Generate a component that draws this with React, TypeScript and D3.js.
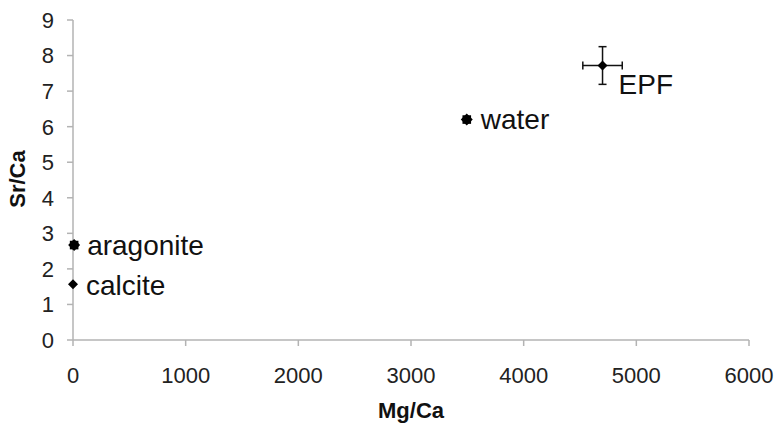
import React from "react";
import * as d3 from "d3";

const labels = ["aragonite", "calcite", "water", "EPF"];
const mgCa = [10, 0, 3495, 4700];
const srCa = [2.67, 1.57, 6.2, 7.72];
const mgErr = [0, 0, 0, 175];
const srErr = [0, 0, 0, 0.53];
const markerKind = ["octagon", "diamond", "octagon", "diamond"];
const xTicks = [0, 1000, 2000, 3000, 4000, 5000, 6000];
const yTicks = [0, 1, 2, 3, 4, 5, 6, 7, 8, 9];

const W = 776;
const H = 423;
const labelOffset: Record<string, [number, number]> = {
  aragonite: [13, 10],
  calcite: [13, 11],
  water: [14, 9],
  EPF: [16, 28],
};

const FONT = "'Liberation Sans', Arial, sans-serif";
const AXIS = "#b3b3b3";

export default function App() {
  const x = d3.scaleLinear().domain([0, 6000]).range([73, 749]);
  const y = d3.scaleLinear().domain([0, 9]).range([340, 20]);

  const diamond = (cx: number, cy: number, r: number) =>
    `M${cx},${cy - r}L${cx + r},${cy}L${cx},${cy + r}L${cx - r},${cy}Z`;

  return (
    <svg
      width={W}
      height={H}
      style={{ position: "absolute", left: 0, top: 0, background: "#fff" }}
      fontFamily={FONT}
    >
      {/* axes */}
      <line x1={x(0)} x2={x(0)} y1={y(9)} y2={y(0)} stroke={AXIS} strokeWidth={1.5} />
      <line x1={x(0)} x2={x(6000)} y1={y(0)} y2={y(0)} stroke={AXIS} strokeWidth={1.5} />
      {yTicks.map((t) => (
        <g key={"y" + t}>
          <line x1={x(0) - 6} x2={x(0)} y1={y(t)} y2={y(t)} stroke={AXIS} strokeWidth={1.5} />
          <text
            x={54}
            y={y(t)}
            dy="0.36em"
            textAnchor="end"
            fontSize={22}
            fill="#222"
          >
            {t}
          </text>
        </g>
      ))}
      {xTicks.map((t) => (
        <g key={"x" + t}>
          <line x1={x(t)} x2={x(t)} y1={y(0)} y2={y(0) + 6} stroke={AXIS} strokeWidth={1.5} />
          <text x={x(t)} y={383} textAnchor="middle" fontSize={22} fill="#222">
            {t}
          </text>
        </g>
      ))}
      <text x={411} y={418} textAnchor="middle" fontSize={22} fontWeight="bold" fill="#111">
        Mg/Ca
      </text>
      <text
        transform={`translate(25,179) rotate(-90)`}
        textAnchor="middle"
        fontSize={22}
        fontWeight="bold"
        fill="#111"
      >
        Sr/Ca
      </text>

      {/* error bars */}
      {labels.map((l, i) => {
        const cx = x(mgCa[i]);
        const cy = y(srCa[i]);
        const els: React.ReactNode[] = [];
        if (mgErr[i] > 0) {
          const x0 = x(mgCa[i] - mgErr[i]);
          const x1 = x(mgCa[i] + mgErr[i]);
          els.push(
            <g key={"ex" + i} stroke="#111" strokeWidth={1.5}>
              <line x1={x0} x2={x1} y1={cy} y2={cy} />
              <line x1={x0} x2={x0} y1={cy - 4} y2={cy + 4} />
              <line x1={x1} x2={x1} y1={cy - 4} y2={cy + 4} />
            </g>
          );
        }
        if (srErr[i] > 0) {
          const y0 = y(srCa[i] - srErr[i]);
          const y1 = y(srCa[i] + srErr[i]);
          els.push(
            <g key={"ey" + i} stroke="#111" strokeWidth={1.5}>
              <line x1={cx} x2={cx} y1={y0} y2={y1} />
              <line x1={cx - 4} x2={cx + 4} y1={y0} y2={y0} />
              <line x1={cx - 4} x2={cx + 4} y1={y1} y2={y1} />
            </g>
          );
        }
        return <g key={"e" + l}>{els}</g>;
      })}

      {/* markers */}
      {labels.map((l, i) => {
        const cx = x(mgCa[i]);
        const cy = y(srCa[i]);
        return (
          <g key={"m" + l} fill="#000">
            <path d={diamond(cx, cy, markerKind[i] === "octagon" ? 6 : 5)} />
            {markerKind[i] === "octagon" && (
              <rect x={cx - 4.3} y={cy - 4.3} width={8.6} height={8.6} />
            )}
          </g>
        );
      })}

      {/* labels */}
      {labels.map((l, i) => {
        const [dx, dy] = labelOffset[l];
        return (
          <text
            key={"t" + l}
            x={x(mgCa[i]) + dx}
            y={y(srCa[i]) + dy}
            fontSize={28}
            fill="#111"
          >
            {l}
          </text>
        );
      })}
    </svg>
  );
}
